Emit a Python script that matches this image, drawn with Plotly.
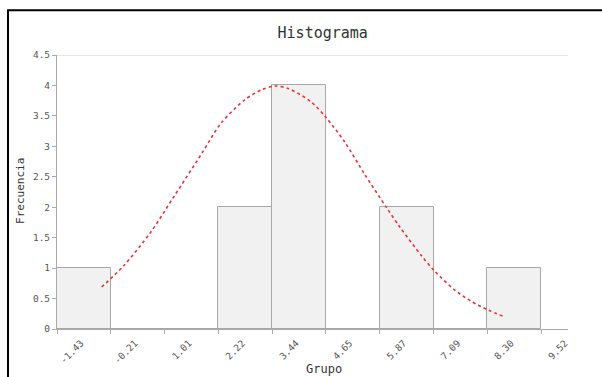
import plotly.graph_objects as go

# Bin edges (tick labels) and counts
edge_labels = ["-1.43", "-0.21", "1.01", "2.22", "3.44", "4.65", "5.87", "7.09", "8.30", "9.52"]
edges = [-1.43, -0.21, 1.01, 2.22, 3.44, 4.65, 5.87, 7.09, 8.30, 9.52]
counts = [1, 0, 0, 2, 4, 0, 2, 0, 1]

# Normal curve points
curve_x = [-0.42, 0.08, 0.69, 1.22, 1.86, 2.28, 2.81, 3.20, 3.50, 3.80, 4.32, 4.66, 5.08,
           5.53, 6.02, 6.32, 6.82, 7.10, 7.57, 7.95, 8.33, 8.69]
curve_y = [0.69, 1.04, 1.59, 2.18, 2.90, 3.38, 3.76, 3.93, 3.99, 3.95, 3.73, 3.47, 3.07,
           2.54, 2.00, 1.68, 1.20, 0.96, 0.64, 0.45, 0.31, 0.20]

centers = [(edges[i] + edges[i + 1]) / 2 for i in range(len(counts))]
widths = [edges[i + 1] - edges[i] for i in range(len(counts))]

MONO = "DejaVu Sans Mono"

fig = go.Figure()
fig.add_trace(go.Bar(
    x=centers, y=counts, width=widths,
    marker=dict(color="#f1f1f1", line=dict(color="#a8a8a8", width=1)),
    hoverinfo="skip", showlegend=False,
))
fig.add_trace(go.Scatter(
    x=curve_x, y=curve_y, mode="lines", line=dict(color="#e8323a", width=1.6, dash="dot",
                                                  shape="spline", smoothing=0.8),
    showlegend=False,
))

fig.update_layout(
    width=602, height=377,
    margin=dict(l=57, r=34, t=55, b=48),
    paper_bgcolor="white", plot_bgcolor="white",
    title=dict(text="Histograma", x=0.52, xref="paper", xanchor="center",
               y=1 - 33 / 377, yref="container", yanchor="middle",
               font=dict(family=MONO, size=15, color="#333333")),
    bargap=0,
    xaxis=dict(range=[-1.43, 10.13], tickmode="array", tickvals=edges, ticktext=edge_labels,
               tickangle=-45, ticks="outside", ticklen=4, tickcolor="#aaaaaa",
               showline=True, linecolor="#aaaaaa", linewidth=1, showgrid=False, zeroline=False,
               ticklabelshift=24,
               tickfont=dict(family=MONO, size=9.5, color="#555555")),
    yaxis=dict(range=[0, 4.5], tickmode="array",
               tickvals=[0, 0.5, 1, 1.5, 2, 2.5, 3, 3.5, 4, 4.5],
               ticktext=["0", "0.5", "1", "1.5", "2", "2.5", "3", "3.5", "4", "4.5"],
               ticks="outside", ticklen=4, tickcolor="#aaaaaa",
               showline=True, linecolor="#aaaaaa", linewidth=1, showgrid=False, zeroline=False,
               tickfont=dict(family=MONO, size=9.5, color="#555555")),
    annotations=[
        dict(text="Frecuencia", xref="paper", yref="paper", x=-0.0705, y=0.504,
             textangle=-90, showarrow=False, xanchor="center", yanchor="middle",
             font=dict(family=MONO, size=11, color="#333333")),
        dict(text="Grupo", xref="paper", yref="paper", x=0.522, y=-0.145,
             showarrow=False, xanchor="center", yanchor="middle",
             font=dict(family=MONO, size=12, color="#333333")),
    ],
    shapes=[
        dict(type="line", xref="paper", yref="y", x0=0, x1=1, y0=4.5, y1=4.5,
             line=dict(color="#cccccc", width=1)),
        dict(type="rect", xref="paper", yref="paper", x0=-0.0959, x1=1.3, y0=-0.4, y1=1.163,
             line=dict(color="black", width=2), layer="above"),
    ],
)

fig.write_html("out.html", config={"displayModeBar": False},
               post_script="document.body.style.margin='0px';")
